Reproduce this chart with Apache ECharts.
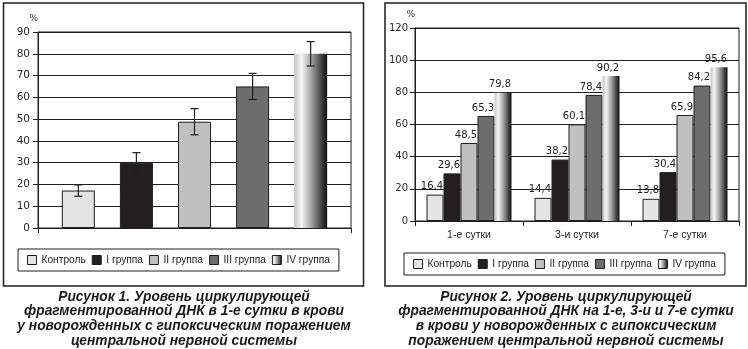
<!DOCTYPE html>
<html>
<head>
<meta charset="utf-8">
<script src="https://cdn.jsdelivr.net/npm/echarts@6/dist/echarts.min.js"></script>
<style>
  html, body { margin: 0; padding: 0; background: #fff; }
  #chart { width: 748px; height: 349px; }
</style>
</head>
<body>
<div id="chart"></div>
<script>
// Группы новорождённых (легенда обоих рисунков)
const groupNames = ['Контроль', 'I группа', 'II группа', 'III группа', 'IV группа'];

// Рисунок 1: 1-е сутки, среднее и ошибка
const day1Means = [17.2, 30.0, 48.8, 65.0, 80.0];
const day1Errors = [2.6, 4.6, 6.0, 6.0, 5.6];
const fig1Ticks = { min: 0, max: 90, step: 10 };

// Рисунок 2: 1-е, 3-и и 7-е сутки
const dayLabels = ['1-е сутки', '3-и сутки', '7-е сутки'];
const controlValues = [16.4, 14.4, 13.8];
const group1Values = [29.6, 38.2, 30.4];
const group2Values = [48.5, 60.1, 65.9];
const group3Values = [65.3, 78.4, 84.2];
const group4Values = [79.8, 90.2, 95.6];
const fig2Ticks = { min: 0, max: 120, step: 20 };

const fig1Caption = [
  'Рисунок 1. Уровень циркулирующей',
  'фрагментированной ДНК в 1-е сутки в крови',
  'у новорожденных с гипоксическим поражением',
  'центральной нервной системы'
];
const fig2Caption = [
  'Рисунок 2. Уровень циркулирующей',
  'фрагментированной ДНК на 1-е, 3-и и 7-е сутки',
  'в крови у новорожденных с гипоксическим',
  'поражением центральной нервной системы'
];

const ink = '#1e1e1e';
const gradientFill = new echarts.graphic.LinearGradient(0, 0, 1, 0, [
  { offset: 0, color: '#c4c4c4' },
  { offset: 0.22, color: '#f6f6f6' },
  { offset: 0.55, color: '#9a9a9a' },
  { offset: 0.85, color: '#3a3a3a' },
  { offset: 1, color: '#101010' }
]);
const fills = ['#e4e4e4', '#231f20', '#c0c0c0', '#6d6d6d', gradientFill];
const byGroup = [controlValues, group1Values, group2Values, group3Values, group4Values];

const tickFont = "'DejaVu Sans', sans-serif";
const textFont = "'Liberation Sans', Arial, sans-serif";

const FIG1_BAR = 33, FIG1_GAP = '76%';

const series = [];
// Рисунок 1 — пять столбцов в одной категории
groupNames.forEach((name, i) => {
  series.push({
    type: 'bar', name, xAxisIndex: 0, yAxisIndex: 0,
    data: [day1Means[i]],
    barWidth: FIG1_BAR, barGap: FIG1_GAP,
    itemStyle: { color: fills[i], borderColor: ink, borderWidth: i === 4 ? 0 : 1 },
    emphasis: { disabled: true }
  });
});
// Отрезки ошибки среднего над столбцами рисунка 1
series.push({
  type: 'custom', xAxisIndex: 0, yAxisIndex: 0, z: 10, silent: true,
  encode: { x: 0, y: [1, 2] },
  data: day1Means.map((m, i) => [0, m - day1Errors[i], m + day1Errors[i], i]),
  renderItem(params, api) {
    const layout = api.barLayout({ count: groupNames.length, barWidth: FIG1_BAR, barGap: FIG1_GAP });
    const idx = api.value(3);
    const lo = api.coord([api.value(0), api.value(1)]);
    const hi = api.coord([api.value(0), api.value(2)]);
    const x = lo[0] + layout[idx].offsetCenter;
    const cap = 4;
    const st = { stroke: ink, lineWidth: 1.2 };
    return {
      type: 'group',
      children: [
        { type: 'line', shape: { x1: x, y1: lo[1], x2: x, y2: hi[1] }, style: st },
        { type: 'line', shape: { x1: x - cap, y1: lo[1], x2: x + cap, y2: lo[1] }, style: st },
        { type: 'line', shape: { x1: x - cap, y1: hi[1], x2: x + cap, y2: hi[1] }, style: st }
      ]
    };
  }
});
// Рисунок 2 — сгруппированные столбцы с подписями значений
groupNames.forEach((name, i) => {
  series.push({
    type: 'bar', name, xAxisIndex: 1, yAxisIndex: 1,
    data: byGroup[i],
    barWidth: 17, barGap: '0%',
    itemStyle: { color: fills[i], borderColor: ink, borderWidth: i === 4 ? 0 : 1 },
    label: {
      show: true, position: 'top', distance: 3, offset: [-3, 0],
      fontFamily: tickFont, fontSize: 10, color: '#222',
      formatter: p => String(p.value).replace('.', ',')
    },
    emphasis: { disabled: true }
  });
});

const yAxisBase = (t, grid, labelSize, margin) => ({
  type: 'value', gridIndex: grid, min: t.min, max: t.max, interval: t.step,
  name: '%', nameLocation: 'end', nameGap: 9,
  nameTextStyle: { fontFamily: tickFont, fontSize: 9, color: '#333', align: 'right' },
  axisLine: { show: true, lineStyle: { color: ink, width: 1 } },
  axisTick: { show: true, inside: false, length: 5, lineStyle: { color: ink } },
  axisLabel: { fontFamily: tickFont, fontSize: labelSize, color: '#2a2a2a', margin },
  splitLine: { show: true, lineStyle: { color: ink, width: 1 } }
});

function captionGraphics(lines, cx, y0) {
  return lines.map((t, k) => ({
    type: 'text', x: cx, y: y0 + k * 14.6,
    style: {
      text: t, textAlign: 'center', textVerticalAlign: 'middle',
      font: "italic bold 13.8px 'Liberation Sans', Arial, sans-serif", fill: '#1a1a1a'
    }
  }));
}

const legendBase = {
  data: groupNames, orient: 'horizontal',
  itemWidth: 9, itemHeight: 9, itemGap: 6, padding: [6, 9],
  borderColor: ink, borderWidth: 1, selectedMode: false,
  icon: 'rect',
  itemStyle: { borderColor: ink, borderWidth: 1 },
  textStyle: { fontFamily: textFont, fontSize: 10.2, color: '#222' }
};

const option = {
  animation: false,
  backgroundColor: '#fff',
  grid: [
    { left: 38, top: 32, width: 313, height: 196, show: true, borderColor: ink, borderWidth: 1, backgroundColor: 'transparent' },
    { left: 415, top: 28, width: 324, height: 193, show: true, borderColor: ink, borderWidth: 1, backgroundColor: 'transparent' }
  ],
  xAxis: [
    {
      type: 'category', gridIndex: 0, data: [''],
      axisLine: { lineStyle: { color: ink } },
      axisTick: { show: true, length: 5, lineStyle: { color: ink } },
      axisLabel: { show: false }
    },
    {
      type: 'category', gridIndex: 1, data: dayLabels,
      axisLine: { lineStyle: { color: ink } },
      axisTick: { show: true, length: 5, lineStyle: { color: ink } },
      axisLabel: { fontFamily: textFont, fontSize: 10.5, color: '#222', margin: 9 }
    }
  ],
  yAxis: [
    yAxisBase(fig1Ticks, 0, 10.5, 8),
    yAxisBase(fig2Ticks, 1, 10, 7)
  ],
  legend: [
    Object.assign({ left: 18, top: 249 }, legendBase),
    Object.assign({ left: 404, top: 253 }, legendBase)
  ],
  graphic: [
    { type: 'rect', shape: { x: 3.5, y: 3, width: 360, height: 283 }, style: { fill: 'none', stroke: ink, lineWidth: 1.5 }, silent: true },
    { type: 'rect', shape: { x: 385, y: 3, width: 361, height: 283 }, style: { fill: 'none', stroke: ink, lineWidth: 1.5 }, silent: true },
    ...captionGraphics(fig1Caption, 184, 297),
    ...captionGraphics(fig2Caption, 566, 297)
  ],
  series
};

const chart = echarts.init(document.getElementById('chart'), null, { renderer: 'canvas' });
chart.setOption(option);
</script>
</body>
</html>
